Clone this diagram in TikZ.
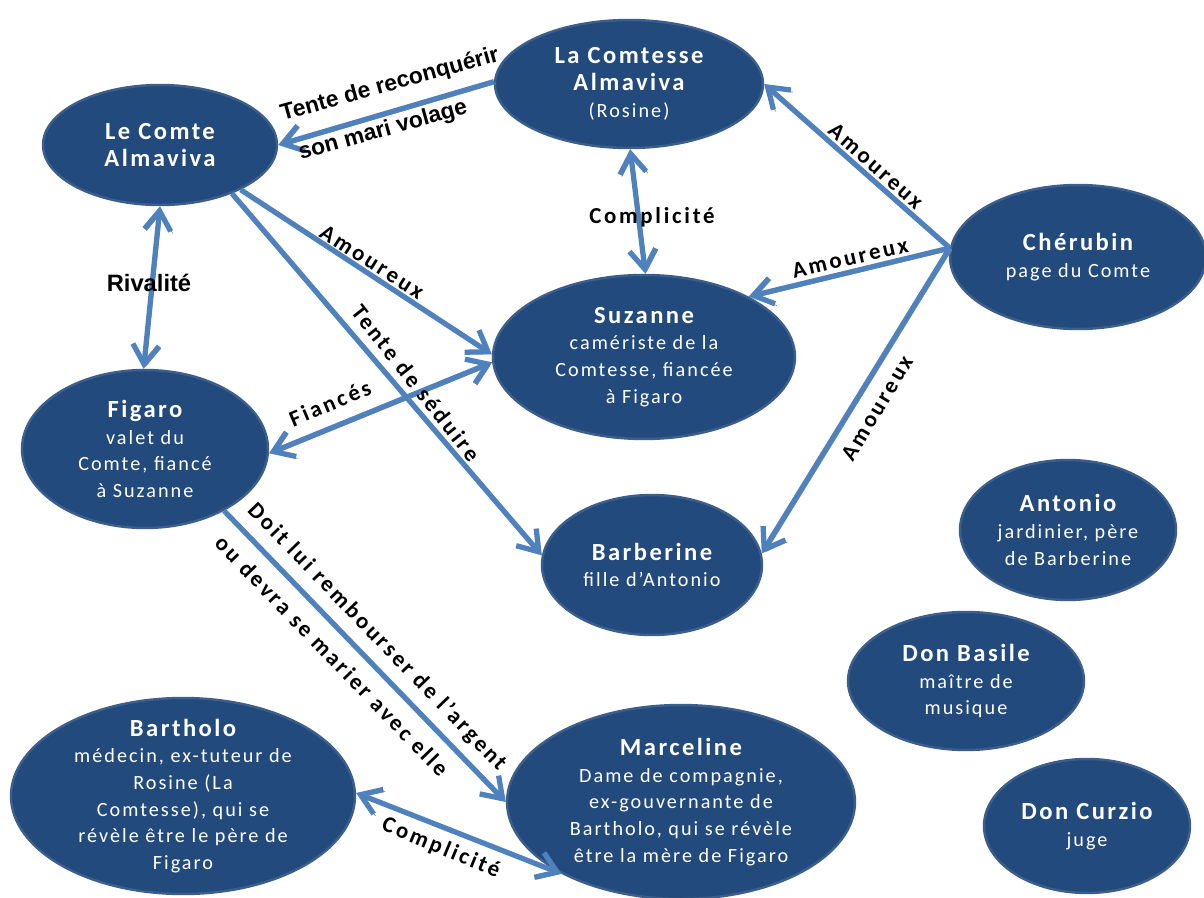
\documentclass[tikz,border=0pt]{standalone}
\usepackage{fontspec}
\setmainfont{Carlito}
\newfontfamily\cfont[LetterSpace=10]{Carlito}
\newfontfamily\lfont[LetterSpace=12]{Carlito}
\newfontfamily\afont{Liberation Sans}
\usetikzlibrary{shapes.geometric,arrows.meta}
\definecolor{nodefill}{RGB}{35,74,124}
\definecolor{nodeline}{RGB}{59,94,140}
\definecolor{arrowblue}{RGB}{79,129,189}
\newcommand\chname[1]{{\fontsize{14}{15.5}\selectfont\bfseries #1}}
\tikzset{
  char/.style={ellipse, fill=nodefill, draw=nodeline, line width=1.4pt, text=white,
    inner xsep=-30pt, inner ysep=-30pt, align=center,
    font=\cfont\fontsize{11.5}{15.2}\selectfont},
  rel/.style={draw=arrowblue, line width=3pt,
    preaction={draw=black!45, transform canvas={shift={(1.1pt,-1.1pt)}}}},
  >={Straight Barb[length=11pt,width=15pt]},
  lab/.style={font=\lfont\bfseries\fontsize{13}{15}\selectfont, inner sep=0pt},
  alab/.style={font=\afont\bfseries\fontsize{13}{15}\selectfont, inner sep=0pt},
}
\begin{document}
\begin{tikzpicture}[x=0.02cm,y=-0.02cm]
\useasboundingbox (0,0) rectangle (1204,898);
% characters
\node[char, minimum width=4.68cm, minimum height=2.40cm] (comte) at (160,145) {\chname{Le Comte}\\\chname{Almaviva}};
\node[char, minimum width=5.36cm, minimum height=2.56cm] (comtesse) at (629,84) {\chname{La Comtesse}\\\chname{Almaviva}\\(Rosine)};
\node[char, minimum width=5.12cm, minimum height=2.88cm] (cher) at (1078,257) {\chname{Chérubin}\\page du Comte};
\node[char, minimum width=6.04cm, minimum height=3.28cm] (suz) at (644,357) {\chname{Suzanne}\\camériste de la\\Comtesse, fiancée\\à Figaro};
\node[char, minimum width=4.92cm, minimum height=3.16cm] (fig) at (145,449) {\chname{Figaro}\\valet du\\Comte,  fiancé\\à Suzanne};
\node[char, minimum width=4.40cm, minimum height=2.80cm] (barb) at (652,565) {\chname{Barberine}\\fille d’Antonio};
\node[char, minimum width=4.32cm, minimum height=2.80cm] (anto) at (1068,530) {\chname{Antonio}\\jardinier, père\\de Barberine};
\node[char, minimum width=4.72cm, minimum height=2.76cm] (basile) at (966,681) {\chname{Don Basile}\\maître de\\musique};
\node[char, minimum width=6.88cm, minimum height=3.92cm] (barth) at (183,796) {\chname{Bartholo}\\médecin, ex-tuteur de\\Rosine (La\\Comtesse), qui se\\révèle être le père de\\Figaro};
\node[char, minimum width=6.96cm, minimum height=3.88cm] (marc) at (681,802) {\chname{Marceline}\\Dame de compagnie,\\ex-gouvernante de\\Bartholo, qui se révèle\\être la mère de Figaro};
\node[char, minimum width=4.12cm, minimum height=2.68cm] (curzio) at (1087,826) {\chname{Don Curzio}\\juge};
% relations
\draw[rel,->] (comtesse.179) -- (comte.0);
\draw[rel,<->] (comtesse.-89) -- (suz.89);
\draw[rel,->] (cher.176) -- (comtesse.0);
\draw[rel,->] (cher.176) -- (suz.30);
\draw[rel,->] (cher.176) -- (barb.6);
\draw[rel,->] (comte.-29) -- (suz.179);
\draw[rel,->] (comte.-34) -- (barb.175);
\draw[rel,<->] (comte.-90) -- (fig.91);
\draw[rel,<->] (suz.-178) -- (fig.-2);
\draw[rel,->] (fig.-38) -- (marc.180);
\draw[rel,<->] (barth.1) -- (marc.-149);
% labels
\node[alab, rotate=15.5] (l1) at (390,85) {Tente de reconquérir};
\node[alab, rotate=15.5] (l2) at (383,131) {son mari volage};
\node[lab] (l3) at (652,217) {Complicité};
\node[lab, rotate=-41.7] (l4) at (876,166) {Amoureux};
\node[lab, rotate=12.9] (l5) at (850,258) {Amoureux};
\node[lab, rotate=59] (l6) at (877,408) {Amoureux};
\node[lab, rotate=-32.5] (l7) at (372,262) {Amoureux};
\node[lab, rotate=-51.7] (l8) at (416,383) {Tente de séduire};
\node[alab, font=\afont\bfseries\fontsize{13.5}{15}\selectfont] (l9) at (149,283) {Rivalité};
\node[lab, rotate=22.9] (l10) at (330,403) {Fiancés};
\node[lab, rotate=-46] (l11) at (377,637) {Doit lui rembourser de l’argent};
\node[lab, rotate=-46] (l12) at (332,656) {ou devra se marier avec elle};
\node[lab, rotate=-22.4] (l13) at (441,848) {Complicité};
\end{tikzpicture}
\end{document}
